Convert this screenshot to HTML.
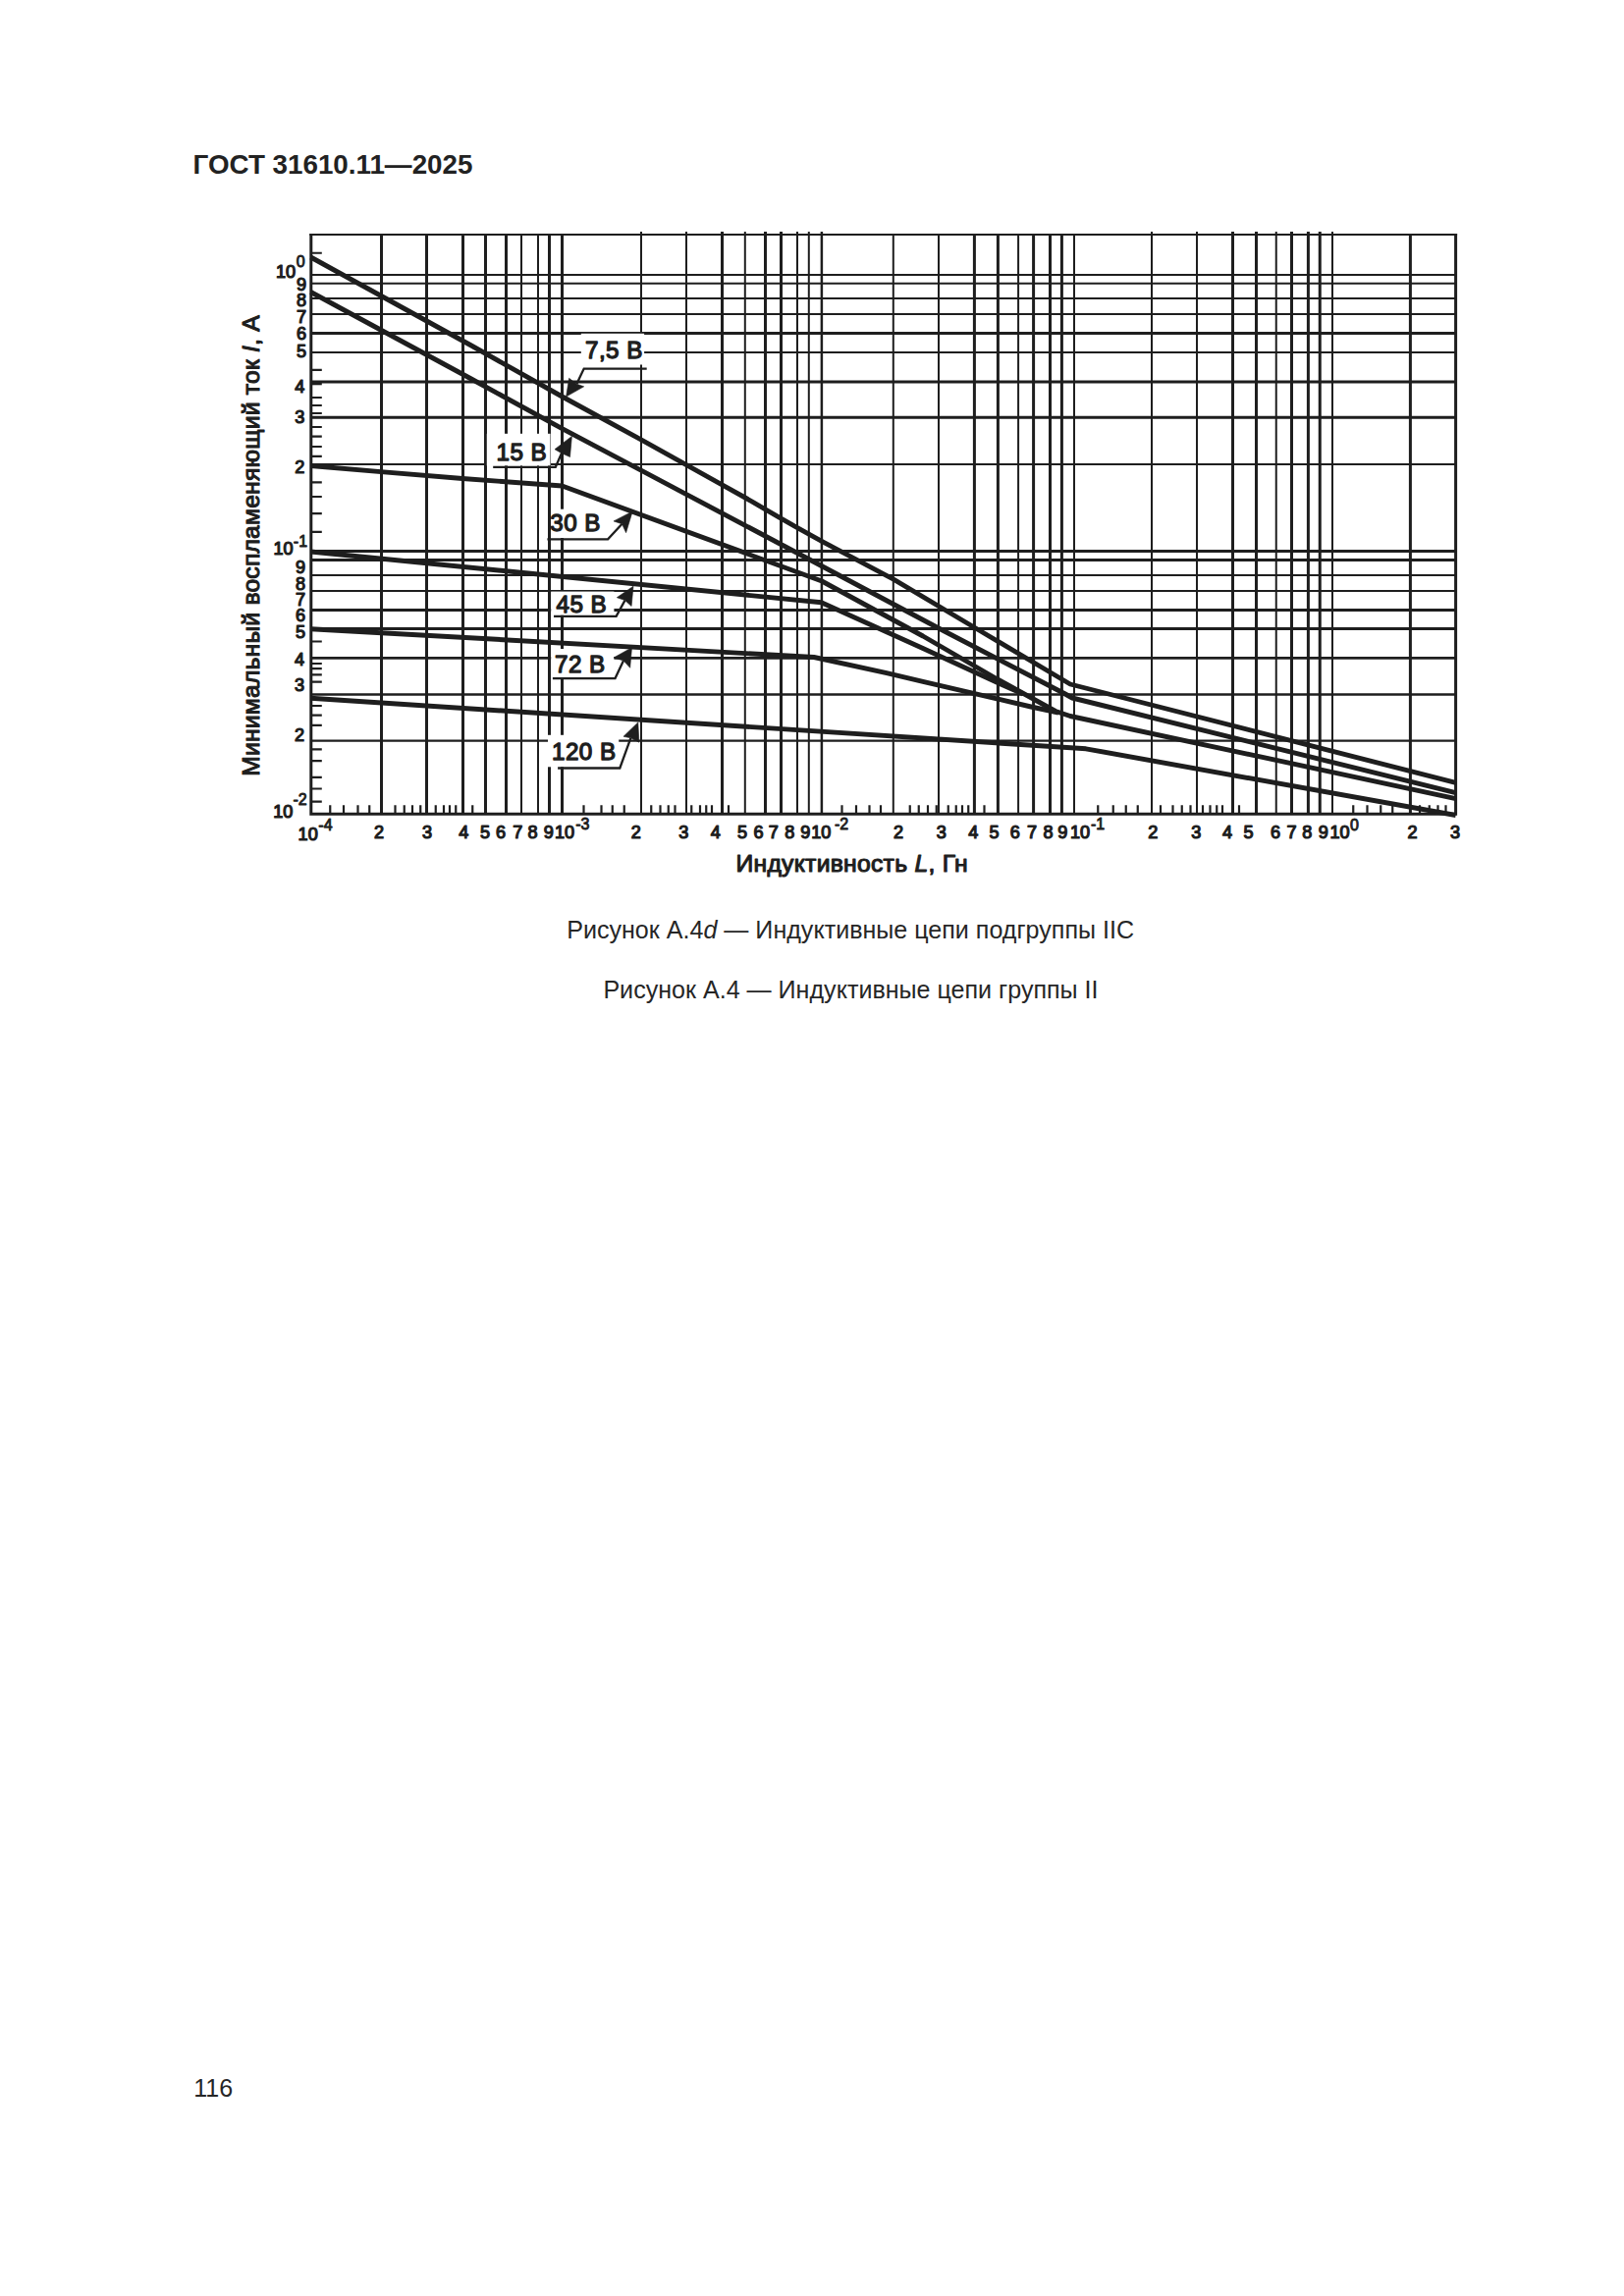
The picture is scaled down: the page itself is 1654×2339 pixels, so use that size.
<!DOCTYPE html>
<html lang="ru"><head><meta charset="utf-8"><title>ГОСТ 31610.11—2025</title>
<style>
html,body{margin:0;padding:0;background:#fff}
body{width:1654px;height:2339px;position:relative;overflow:hidden;font-family:"Liberation Sans",sans-serif;color:#262626}
.t{position:absolute;white-space:nowrap;line-height:1;margin:0}
#hdr{left:196.6px;top:153.9px;font-size:27.78px;font-weight:bold;color:#222}
#c1{left:577.2px;top:934.7px;font-size:25.08px}
#c2{left:614.4px;top:995.6px;font-size:25.08px}
#pn{left:197.2px;top:2114.8px;font-size:25px}
</style></head><body>
<svg width="1654" height="2339" viewBox="0 0 1654 2339" style="position:absolute;left:0;top:0">
<g stroke="#1e1e1e" fill="none" stroke-linecap="butt">
<path d="M531 238.9V829.2M548 238.9V829.2M653 235.9V829.2M699 235.9V829.2M758.8 235.9V829.2M812 235.9V829.2M823.8 235.9V829.2M909.8 238.9V829.2M956 238.9V829.2M1037.1 238.9V829.2M1094 238.9V829.2M1173 235.9V829.2M1219 235.9V829.2M1299.75 235.9V829.2M1357 235.9V829.2" stroke-width="2"/>
<path d="M836.9 235.9V829.2" stroke-width="2.5"/>
<path d="M388.5 238.9V829.2M434.5 238.9V829.2M471.5 238.9V829.2M494.5 238.9V829.2M515.5 238.9V829.2M559.5 238.9V829.2M572.5 238.9V829.2M735.5 235.9V829.2M779.5 235.9V829.2M795.5 235.9V829.2M992.4 238.9V829.2M1016.4 238.9V829.2M1052.6 238.9V829.2M1069.5 238.9V829.2M1081.4 238.9V829.2M1255.5 235.9V829.2M1279.5 235.9V829.2M1315.5 235.9V829.2M1332.4 235.9V829.2M1344.25 235.9V829.2M1436.4 238.9V829.2" stroke-width="3"/>
<path d="M316.8 279.9H1482.6M316.8 288.75H1482.6M316.8 304H1482.6M316.8 320H1482.6M316.8 359H1482.6M316.8 473H1482.6M316.8 585.9H1482.6M316.8 602H1482.6" stroke-width="2"/>
<path d="M316.8 754.7H1482.6" stroke-width="2.3"/>
<path d="M316.8 707.5H1482.6" stroke-width="2.5"/>
<path d="M316.8 570.5H1482.6M316.8 621.5H1482.6M316.8 640.5H1482.6M316.8 670.4H1482.6" stroke-width="2.8"/>
<path d="M316.8 339.4H1482.6M316.8 388.9H1482.6M316.8 425.3H1482.6M316.8 561.5H1482.6" stroke-width="3"/>
<path d="M316.8 257.75h11M316.8 376.9h11M316.8 405h11M316.8 413h11M316.8 421h11M316.8 435h11M316.8 444.7h11M316.8 455h11M316.8 464.8h11M316.8 491.3h11M316.8 506h11M316.8 523.2h11M316.8 541.9h11M316.8 653.5h11M316.8 676h11M316.8 681.1h11M316.8 687.3h11M316.8 694.6h11M316.8 719h11M316.8 728.6h11M316.8 738.9h11M316.8 763.4h11M316.8 775.2h11M316.8 791.9h11M316.8 803.5h11M316.8 816.6h11M336.25 829.2v-9M350 829.2v-9M364.5 829.2v-9M376.25 829.2v-9M402.5 829.2v-9M411.75 829.2v-9M420 829.2v-9M428.25 829.2v-9M443.75 829.2v-9M452 829.2v-9M458 829.2v-9M464.25 829.2v-9M481.25 829.2v-9M594.5 829.2v-9M612.5 829.2v-9M623.75 829.2v-9M635.75 829.2v-9M663.25 829.2v-9M672.5 829.2v-9M680.75 829.2v-9M687.5 829.2v-9M704.25 829.2v-9M713 829.2v-9M719.25 829.2v-9M725 829.2v-9M742 829.2v-9M857.5 829.2v-9M872 829.2v-9M885.5 829.2v-9M897 829.2v-9M926.75 829.2v-9M935.75 829.2v-9M945 829.2v-9M953.75 829.2v-9M965.75 829.2v-9M973.75 829.2v-9M980 829.2v-9M986.25 829.2v-9M1002.5 829.2v-9M1118.25 829.2v-9M1133.75 829.2v-9M1146.75 829.2v-9M1158.75 829.2v-9M1182 829.2v-9M1194.5 829.2v-9M1203.75 829.2v-9M1212.5 829.2v-9M1225 829.2v-9M1232.5 829.2v-9M1239.25 829.2v-9M1245 829.2v-9M1262 829.2v-9M1378.25 829.2v-9M1392.5 829.2v-9M1406.25 829.2v-9M1418.25 829.2v-9M1446 829.2v-9M1455.75 829.2v-9M1464.5 829.2v-9M1472.5 829.2v-9" stroke-width="2.2"/>
<path d="M316.8 390.6h11" stroke-width="3.4"/>
<path d="M316.8 237.9V830.7M1482.6 237.9V830.7M316.8 829.2H1482.6" stroke-width="3"/>
<path d="M315.3 238.9H1484.1" stroke-width="2"/>
</g>
<rect x="591.8" y="339.8" width="64.30000000000007" height="31.69999999999999" fill="#fff"/>
<rect x="495.8" y="441.8" width="64.69999999999999" height="32.599999999999966" fill="#fff"/>
<rect x="561.2" y="518.7" width="53.799999999999955" height="29.299999999999955" fill="#fff"/>
<rect x="561.2" y="602.6" width="64.19999999999993" height="24.199999999999932" fill="#fff"/>
<rect x="561.2" y="661" width="64.19999999999993" height="29" fill="#fff"/>
<rect x="558" y="748.8" width="72.20000000000005" height="32.5" fill="#fff"/>
<g stroke="#1e1e1e" fill="none" stroke-width="4.9" stroke-linejoin="round" stroke-linecap="butt">
<polyline points="316.5,262 480,352 572.5,404 652.9,447.8 699.1,473.6 735.4,493.8 759,507 779.4,518.8 795.4,528.1 812.1,537.6 836.9,551.3 910,590.2 993.75,640 1090,697 1482.6,797.4"/>
<polyline points="316.5,297.5 480,386 572.5,436.7 652.9,479.2 699.1,503.6 800,557 956,640 1084,706.5 1092,711 1482.6,807.6"/>
<polyline points="316.5,474.5 388,480.6 471,487.5 572.5,495 837,592 940,648 1015,691.5 1075,724.5 1090,729.5 1482.6,813.7"/>
<polyline points="316.5,562 836.5,613.8 940,660.6 1015,695 1042,707"/>
<polyline points="316.5,640.7 829,669.5 903,685.6 940,694.3 1050,720 1078,726"/>
<polyline points="316.5,711.3 1106,762.8 1482.6,830.5"/>
</g>
<g stroke="#1e1e1e" fill="#1e1e1e" stroke-width="2.3">
<polyline fill="none" points="658.7,375.6 594.7,375.6 587.3,391.2"/>
<polygon stroke-width="0.6" points="576.6,404.1 579.6,385.3 587.3,391.2 594.7,393.8"/>
<polyline fill="none" points="502.2,475.8 565.8,475.8 572,461.8"/>
<polygon stroke-width="0.6" points="582.4,444.4 565,457.7 572,461.8 580.5,465.5"/>
<polyline fill="none" points="557.4,549.3 619.1,549.3 633.5,533.8"/>
<polygon stroke-width="0.6" points="644.2,520.9 625,530.9 633.5,533.8 637.6,542.7"/>
<polyline fill="none" points="564,627.9 627.6,627.9 636.5,611.6"/>
<polygon stroke-width="0.6" points="645,597.2 628.3,608.7 636.5,611.6 643.1,617.5"/>
<polyline fill="none" points="562.9,691.1 626.5,691.1 635,673"/>
<polygon stroke-width="0.6" points="643.5,659.7 625,670 635,673 641.7,680.3"/>
<polyline fill="none" points="568.1,782.5 631.3,782.5 642.4,751.8"/>
<polygon stroke-width="0.6" points="649.8,735.9 635,750.3 642.4,751.8 650.9,756.2"/>
</g>
<g fill="#1e1e1e" stroke="#1e1e1e" stroke-width="1.2" stroke-linejoin="round" font-family="'Liberation Sans', sans-serif">
<text x="596" y="364.9" font-size="24.2" stroke-width="1.3" letter-spacing="0.45">7,5 В</text>
<text x="505.6" y="468.6" font-size="24.2" stroke-width="1.3" letter-spacing="0.45">15 В</text>
<text x="560.3" y="541.2" font-size="24.2" stroke-width="1.3" letter-spacing="0.45">30 В</text>
<text x="566.6" y="623.6" font-size="24.2" stroke-width="1.3" letter-spacing="0.45">45 В</text>
<text x="565" y="684.6" font-size="24.2" stroke-width="1.3" letter-spacing="0.45">72 В</text>
<text x="562" y="774" font-size="24.2" stroke-width="1.3" letter-spacing="0.45">120 В</text>
<text x="303.6" y="855.6" font-size="18.1" text-anchor="start">10</text>
<text x="324.3" y="845.7" font-size="16" stroke-width="0.9" text-anchor="start">-4</text>
<text x="386" y="853.6" font-size="18.1" text-anchor="middle">2</text>
<text x="435" y="853.6" font-size="18.1" text-anchor="middle">3</text>
<text x="472.25" y="853.6" font-size="18.1" text-anchor="middle">4</text>
<text x="494" y="853.6" font-size="18.1" text-anchor="middle">5</text>
<text x="510" y="853.6" font-size="18.1" text-anchor="middle">6</text>
<text x="527.25" y="853.6" font-size="18.1" text-anchor="middle">7</text>
<text x="542.5" y="853.6" font-size="18.1" text-anchor="middle">8</text>
<text x="558.75" y="853.6" font-size="18.1" text-anchor="middle">9</text>
<text x="565" y="853.6" font-size="18.1" text-anchor="start">10</text>
<text x="586.25" y="845" font-size="16" stroke-width="0.9" text-anchor="start">-3</text>
<text x="647.75" y="853.6" font-size="18.1" text-anchor="middle">2</text>
<text x="696.25" y="853.6" font-size="18.1" text-anchor="middle">3</text>
<text x="728.75" y="853.6" font-size="18.1" text-anchor="middle">4</text>
<text x="756" y="853.6" font-size="18.1" text-anchor="middle">5</text>
<text x="772.5" y="853.6" font-size="18.1" text-anchor="middle">6</text>
<text x="787.75" y="853.6" font-size="18.1" text-anchor="middle">7</text>
<text x="804.25" y="853.6" font-size="18.1" text-anchor="middle">8</text>
<text x="820.4" y="853.6" font-size="18.1" text-anchor="middle">9</text>
<text x="826.25" y="853.6" font-size="18.1" text-anchor="start">10</text>
<text x="850" y="845" font-size="16" stroke-width="0.9" text-anchor="start">-2</text>
<text x="915" y="853.6" font-size="18.1" text-anchor="middle">2</text>
<text x="958.75" y="853.6" font-size="18.1" text-anchor="middle">3</text>
<text x="991.25" y="853.6" font-size="18.1" text-anchor="middle">4</text>
<text x="1012.5" y="853.6" font-size="18.1" text-anchor="middle">5</text>
<text x="1033.75" y="853.6" font-size="18.1" text-anchor="middle">6</text>
<text x="1051" y="853.6" font-size="18.1" text-anchor="middle">7</text>
<text x="1067.5" y="853.6" font-size="18.1" text-anchor="middle">8</text>
<text x="1082.25" y="853.6" font-size="18.1" text-anchor="middle">9</text>
<text x="1090" y="853.6" font-size="18.1" text-anchor="start">10</text>
<text x="1111" y="845" font-size="16" stroke-width="0.9" text-anchor="start">-1</text>
<text x="1174.25" y="853.6" font-size="18.1" text-anchor="middle">2</text>
<text x="1218.25" y="853.6" font-size="18.1" text-anchor="middle">3</text>
<text x="1250" y="853.6" font-size="18.1" text-anchor="middle">4</text>
<text x="1271.5" y="853.6" font-size="18.1" text-anchor="middle">5</text>
<text x="1299" y="853.6" font-size="18.1" text-anchor="middle">6</text>
<text x="1315.6" y="853.6" font-size="18.1" text-anchor="middle">7</text>
<text x="1331.25" y="853.6" font-size="18.1" text-anchor="middle">8</text>
<text x="1347.75" y="853.6" font-size="18.1" text-anchor="middle">9</text>
<text x="1354.5" y="853.6" font-size="18.1" text-anchor="start">10</text>
<text x="1375" y="846.2" font-size="16" stroke-width="0.9" text-anchor="start">0</text>
<text x="1438.6" y="853.6" font-size="18.1" text-anchor="middle">2</text>
<text x="1482.1" y="853.6" font-size="18.1" text-anchor="middle">3</text>
<text x="281" y="283.0" font-size="18.1" text-anchor="start">10</text>
<text x="301.8" y="272.09999999999997" font-size="16" stroke-width="0.9" text-anchor="start">0</text>
<text x="312" y="295.8" font-size="18.1" text-anchor="end">9</text>
<text x="312" y="312.2" font-size="18.1" text-anchor="end">8</text>
<text x="312" y="329.09999999999997" font-size="18.1" text-anchor="end">7</text>
<text x="312" y="346.3" font-size="18.1" text-anchor="end">6</text>
<text x="312" y="363.5" font-size="18.1" text-anchor="end">5</text>
<text x="310.3" y="400.2" font-size="18.1" text-anchor="end">4</text>
<text x="310.3" y="430.7" font-size="18.1" text-anchor="end">3</text>
<text x="310.3" y="482.4" font-size="18.1" text-anchor="end">2</text>
<text x="278.5" y="565.4000000000001" font-size="18.1" text-anchor="start">10</text>
<text x="298.8" y="557.4000000000001" font-size="16" stroke-width="0.9" text-anchor="start">-1</text>
<text x="311" y="583.9000000000001" font-size="18.1" text-anchor="end">9</text>
<text x="311" y="600.8000000000001" font-size="18.1" text-anchor="end">8</text>
<text x="311" y="616.9000000000001" font-size="18.1" text-anchor="end">7</text>
<text x="311" y="633.0" font-size="18.1" text-anchor="end">6</text>
<text x="311" y="649.8000000000001" font-size="18.1" text-anchor="end">5</text>
<text x="310.2" y="677.9000000000001" font-size="18.1" text-anchor="end">4</text>
<text x="310.2" y="704.2" font-size="18.1" text-anchor="end">3</text>
<text x="310.2" y="755.0" font-size="18.1" text-anchor="end">2</text>
<text x="278.3" y="833.0" font-size="18.1" text-anchor="start">10</text>
<text x="298.4" y="819.8000000000001" font-size="16" stroke-width="0.9" text-anchor="start">-2</text>
<text x="749.5" y="887.7" font-size="24.7" stroke-width="1.1" letter-spacing="0.27" id="xt">Индуктивность <tspan font-style="italic">L</tspan>, Гн</text>
<text transform="translate(263.8 790.8) rotate(-90)" font-size="24.7" stroke-width="1.1" letter-spacing="0.2" id="yt">Минимальный воспламеняющий ток <tspan font-style="italic">I</tspan>, А</text>
</g>
</svg>
<div class="t" id="hdr">ГОСТ 31610.11—2025</div>
<p class="t" id="c1">Рисунок А.4<i>d</i> — Индуктивные цепи подгруппы IIC</p>
<p class="t" id="c2">Рисунок А.4 — Индуктивные цепи группы II</p>
<div class="t" id="pn">116</div>
</body></html>
